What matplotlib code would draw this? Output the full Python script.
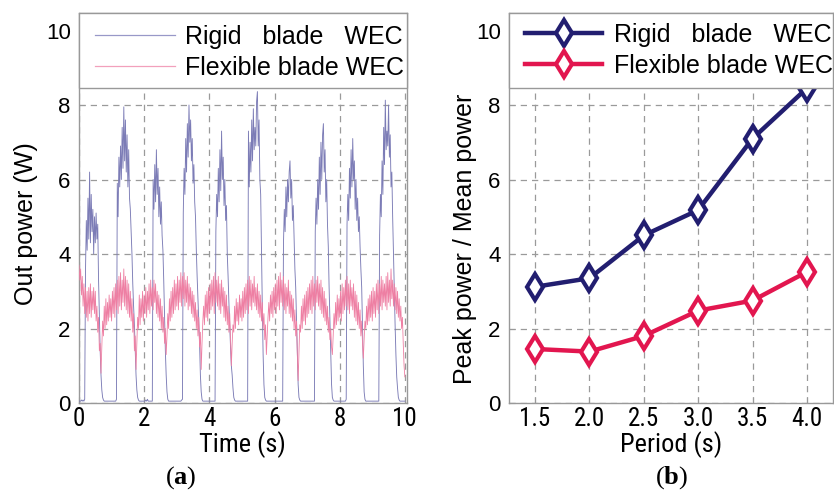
import numpy as np
import matplotlib
matplotlib.use("Agg")
import matplotlib.pyplot as plt
from matplotlib.patches import Rectangle
from matplotlib.lines import Line2D

plt.rcParams['font.family'] = ['Liberation Sans', 'DejaVu Sans']
plt.rcParams['mathtext.fontset'] = 'custom'
plt.rcParams['mathtext.rm'] = 'Liberation Serif'
plt.rcParams['mathtext.bf'] = 'Liberation Serif:bold'

# ---------------- data: panel (a), sampled every 0.025 s from 0 to 10 s -------------
rigid_power = [
    0.05, 0.05, 0.05, 0.08, 0.05, 0.08, 0.05, 0.1, 3.6, 4.9, 4.1, 5.5, 4.4, 6.2, 4.3, 5.6, 4.6, 5.2, 4.0, 5.0,
    4.3, 5.1, 4.4, 4.8, 3.3, 2.3, 1.4, 0.75, 0.35, 0.15, 0.08, 0.05, 0.05, 0.05, 0.05, 0.05, 0.05, 0.05, 0.05, 0.05,
    0.05, 0.05, 0.05, 0.05, 0.05, 0.05, 0.1, 5.9, 5.0, 6.6, 5.8, 6.9, 6.0, 7.4, 6.3, 7.95, 6.5, 7.6, 6.2, 7.2,
    5.8, 6.8, 5.5, 5.2, 4.6, 4.0, 3.2, 2.6, 2.1, 1.4, 0.75, 0.35, 0.15, 0.08, 0.05, 0.05, 0.05, 0.05, 0.05, 0.05,
    0.05, 0.05, 0.08, 0.05, 0.1, 0.05, 0.05, 0.05, 0.05, 0.05, 0.05, 6.0, 5.2, 6.4, 5.4, 6.8, 5.6, 6.3, 5.0, 5.8,
    4.8, 5.4, 4.5, 4.1, 3.3, 2.3, 1.4, 0.75, 0.3, 0.1, 0.05, 0.05, 0.05, 0.05, 0.05, 0.05, 0.05, 0.05, 0.05, 0.05,
    0.05, 0.05, 0.05, 0.05, 0.05, 0.05, 0.08, 0.1, 5.1, 6.3, 5.6, 7.1, 6.2, 7.5, 6.6, 8.0, 7.0, 7.6, 6.5, 7.1,
    5.9, 6.4, 5.4, 5.0, 4.1, 3.4, 2.8, 2.2, 1.6, 0.75, 0.3, 0.1, 0.05, 0.05, 0.05, 0.05, 0.05, 0.05, 0.05, 0.05,
    0.05, 0.05, 0.05, 0.05, 0.05, 0.05, 0.05, 0.05, 4.6, 5.6, 5.0, 6.3, 5.4, 6.8, 5.7, 7.3, 6.0, 6.6, 5.3, 6.0,
    4.9, 5.3, 4.0, 3.4, 2.7, 2.1, 1.5, 1.0, 0.75, 0.4, 0.15, 0.08, 0.05, 0.05, 0.05, 0.05, 0.05, 0.05, 0.05, 0.05,
    0.05, 0.05, 0.05, 0.05, 0.05, 0.05, 0.05, 0.05, 7.3, 5.8, 7.0, 6.2, 7.6, 6.5, 7.9, 6.8, 7.4, 6.9, 8.1, 8.36,
    6.9, 7.6, 6.0, 5.6, 4.0, 2.6, 1.3, 0.5, 0.15, 0.08, 0.05, 0.05, 0.05, 0.05, 0.05, 0.05, 0.05, 0.05, 0.05, 0.05,
    0.05, 0.05, 0.05, 0.05, 0.05, 0.05, 0.05, 0.05, 0.05, 0.05, 0.05, 4.3, 5.2, 4.6, 5.8, 5.0, 6.0, 5.4, 6.2, 6.5,
    5.5, 6.0, 4.9, 5.3, 4.4, 3.6, 3.1, 2.2, 1.3, 0.5, 0.15, 0.08, 0.05, 0.05, 0.05, 0.05, 0.05, 0.05, 0.05, 0.05,
    0.05, 0.05, 0.05, 0.05, 0.05, 0.05, 0.05, 0.05, 0.05, 0.05, 4.6, 5.5, 4.8, 6.0, 5.2, 6.6, 5.6, 7.0, 6.0, 7.2,
    7.5, 6.2, 6.8, 5.4, 6.0, 4.8, 4.2, 3.1, 2.2, 1.3, 0.5, 0.15, 0.08, 0.05, 0.05, 0.05, 0.05, 0.05, 0.05, 0.05,
    0.05, 0.05, 0.05, 0.05, 0.05, 0.05, 0.05, 0.05, 0.1, 4.8, 5.6, 4.9, 6.3, 5.5, 6.8, 5.8, 7.1, 6.0, 6.5, 5.2,
    6.0, 4.9, 5.5, 4.6, 5.0, 4.2, 3.6, 3.1, 2.1, 1.0, 0.3, 0.1, 0.05, 0.05, 0.05, 0.05, 0.05, 0.05, 0.05, 0.05,
    0.05, 0.05, 0.05, 0.05, 0.05, 0.05, 0.05, 0.05, 0.05, 4.5, 5.6, 5.0, 6.5, 5.6, 7.4, 6.4, 8.13, 6.8, 7.3, 6.9,
    8.0, 6.6, 7.2, 5.8, 6.2, 5.0, 4.0, 3.0, 2.1, 1.3, 0.7, 0.4, 0.15, 0.08, 0.05, 0.05, 0.05, 0.05, 0.05, 0.05,
    0.05,
]

flexible_power = [
    3.7, 3.3, 3.6, 2.9, 3.4, 2.6, 3.2, 2.4, 3.1, 2.3, 3.0, 2.2, 3.1, 2.4, 3.2, 2.3, 3.0, 2.5, 3.1, 2.4,
    3.0, 2.2, 2.6, 1.9, 2.3, 1.4, 1.6, 0.8, 1.5, 2.2, 1.8, 2.6, 2.0, 2.8, 2.1, 2.7, 2.2, 2.9, 2.3, 2.8,
    2.2, 3.0, 2.4, 3.1, 2.3, 3.2, 2.5, 3.3, 2.4, 3.4, 2.6, 3.5, 2.5, 3.3, 2.7, 3.6, 2.6, 3.4, 2.5, 3.3,
    2.4, 3.2, 2.3, 3.0, 2.2, 2.8, 1.9, 2.4, 1.4, 1.8, 0.9, 1.6, 2.3, 2.0, 2.9, 2.1, 2.8, 2.3, 3.0, 2.2,
    2.9, 2.4, 3.1, 2.3, 3.0, 2.5, 3.2, 2.4, 3.3, 2.6, 3.1, 2.5, 3.3, 2.7, 3.2, 2.4, 3.0, 2.3, 2.9, 2.2,
    2.8, 2.0, 2.6, 1.9, 2.3, 1.6, 2.0, 1.3, 1.8, 2.4, 2.0, 2.8, 2.2, 3.0, 2.3, 3.1, 2.4, 3.3, 2.5, 3.2,
    2.6, 3.4, 2.5, 3.3, 2.7, 3.5, 2.6, 3.4, 2.8, 3.5, 2.6, 3.3, 2.7, 3.4, 2.5, 3.2, 2.6, 3.1, 2.4, 3.0,
    2.3, 2.9, 2.2, 2.7, 2.0, 2.5, 1.8, 2.3, 1.5, 1.9, 0.9, 1.6, 2.2, 2.6, 2.1, 2.9, 2.3, 3.0, 2.2, 3.1,
    2.4, 3.2, 2.5, 3.3, 2.6, 3.4, 2.4, 3.5, 2.7, 3.3, 2.6, 3.4, 2.5, 3.2, 2.4, 3.3, 2.6, 3.1, 2.3, 3.0,
    2.2, 2.9, 2.1, 2.6, 1.9, 2.4, 1.7, 1.0, 1.6, 2.1, 1.9, 2.6, 2.0, 2.8, 2.2, 2.7, 2.1, 2.9, 2.3, 2.8,
    2.2, 3.0, 2.3, 3.1, 2.4, 3.2, 2.5, 3.3, 2.4, 3.4, 2.6, 3.3, 2.5, 3.2, 2.7, 3.4, 2.6, 3.1, 2.5, 3.2,
    2.4, 3.0, 2.3, 2.9, 2.2, 2.7, 2.0, 2.4, 1.7, 2.1, 1.3, 1.8, 2.3, 2.7, 2.2, 2.9, 2.4, 3.0, 2.3, 3.1,
    2.5, 3.2, 2.4, 3.3, 2.6, 3.4, 2.5, 3.5, 2.7, 3.3, 2.6, 3.4, 2.5, 3.2, 2.4, 3.1, 2.6, 3.3, 2.4, 3.0,
    2.3, 2.9, 2.2, 2.8, 2.0, 2.5, 1.8, 2.2, 1.3, 0.6, 1.4, 2.1, 1.9, 2.6, 2.0, 2.8, 2.2, 2.9, 2.1, 3.0,
    2.3, 3.1, 2.4, 3.2, 2.5, 3.3, 2.4, 3.4, 2.6, 3.2, 2.5, 3.3, 2.7, 3.4, 2.6, 3.2, 2.5, 3.3, 2.4, 3.1,
    2.3, 3.0, 2.2, 2.8, 2.1, 2.6, 1.9, 2.3, 1.7, 2.0, 1.5, 1.3, 1.8, 2.4, 2.0, 2.7, 2.1, 2.9, 2.2, 2.8,
    2.3, 3.0, 2.2, 3.2, 2.4, 3.1, 2.5, 3.3, 2.6, 3.4, 2.5, 3.2, 2.4, 3.3, 2.6, 3.1, 2.5, 3.2, 2.3, 3.0,
    2.2, 2.9, 2.1, 2.7, 2.0, 2.5, 1.8, 2.2, 1.6, 1.2, 1.7, 2.2, 2.0, 2.6, 2.1, 2.8, 2.2, 2.9, 2.3, 3.0,
    2.2, 3.1, 2.4, 3.0, 2.3, 3.2, 2.5, 3.3, 2.4, 3.2, 2.6, 3.4, 2.5, 3.3, 2.7, 3.2, 2.6, 3.4, 2.5, 3.5,
    2.7, 3.3, 2.6, 3.6, 2.8, 3.3, 2.6, 3.2, 2.5, 3.1, 2.4, 3.0, 2.3, 2.8, 2.2, 2.6, 2.0, 2.3, 1.6, 1.0,
    0.7,
]

# ---------------- data: panel (b) ----------------
periods = [1.5, 2.0, 2.5, 3.0, 3.5, 4.0]
period_labels = ['1.5', '2.0', '2.5', '3.0', '3.5', '4.0']
rigid_ratio = [3.12, 3.35, 4.5, 5.18, 7.1, 8.45]
flexible_ratio = [1.45, 1.38, 1.8, 2.48, 2.75, 3.52]

series_names = ['Rigid   blade   WEC', 'Flexible blade WEC']

# ---------------- figure ----------------
W, H = 834, 497
fig = plt.figure(figsize=(W / 100, H / 100), dpi=100)

def frac_rect(x0, x1, ytop, ybot):
    return [x0 / W, (H - ybot) / H, (x1 - x0) / W, (ybot - ytop) / H]

ax1 = fig.add_axes(frac_rect(79, 406.5, 13, 403))
ax2 = fig.add_axes(frac_rect(509, 833, 13, 403))

grid_kw = dict(color='#9a9a9a', linestyle=(0, (5, 4)), linewidth=0.9)
spine_col = '#999999'
narrow = ['Roboto Condensed', 'DejaVu Sans Condensed', 'Liberation Sans Narrow',
          'Liberation Sans', 'DejaVu Sans']

RIGID_A = '#7c7cb6'
FLEX_A = '#ee7fa3'
RIGID_B = '#221e70'
FLEX_B = '#e2164f'

# ---- panel (a) ----
t_r = np.linspace(0, 10, len(rigid_power))
t_f = np.linspace(0, 10, len(flexible_power))
l1, = ax1.plot(t_r, rigid_power, color=RIGID_A, lw=0.65, zorder=3)
l2, = ax1.plot(t_f, flexible_power, color=FLEX_A, lw=0.6, zorder=4)
ax1.set_xlim(0, 10.05)
ax1.set_ylim(0, 10.47)
ax1.set_xticks([0, 2, 4, 6, 8, 10])
ax1.set_yticks([0, 2, 4, 6, 8, 10])
ax1.set_ylabel('Out power (W)', fontsize=18)
ax1.yaxis.set_label_coords(-0.125, 0.46)
ax1.set_xlabel('Time (s)', fontsize=19, family=narrow, labelpad=0)

# ---- panel (b) ----
ax2.plot(periods, rigid_ratio, color=RIGID_B, lw=3.2, marker='d', markersize=13,
         markerfacecolor='white', markeredgecolor=RIGID_B, markeredgewidth=3.0, zorder=4)
ax2.plot(periods, flexible_ratio, color=FLEX_B, lw=3.2, marker='d', markersize=13,
         markerfacecolor='white', markeredgecolor=FLEX_B, markeredgewidth=3.0, zorder=4)
ax2.set_xlim(1.26, 4.24)
ax2.set_ylim(0, 10.47)
ax2.set_xticks(periods)
ax2.set_xticklabels(period_labels)
ax2.set_yticks([0, 2, 4, 6, 8, 10])
ax2.set_ylabel('Peak power / Mean power', fontsize=18)
ax2.yaxis.set_label_coords(-0.1, 0.42)
ax2.set_xlabel('Period (s)', fontsize=19, family=narrow, labelpad=0)

for ax in (ax1, ax2):
    ax.grid(True, **grid_kw)
    for s in ax.spines.values():
        s.set_color(spine_col)
        s.set_linewidth(1.0)
    ax.tick_params(axis='both', direction='in', length=4, width=0.8, color=spine_col)
    ax.tick_params(axis='y', labelsize=16, pad=6)
    ax.tick_params(axis='x', labelsize=18, pad=3)
    for lab in ax.get_xticklabels():
        lab.set_family(narrow)
    # legend region box
    ax.add_patch(Rectangle((0, (403 - 88) / 390), 1, 1 - (403 - 88) / 390,
                           transform=ax.transAxes, facecolor='white',
                           edgecolor=spine_col, lw=1.0, zorder=10, clip_on=False))

h1 = Line2D([], [], color='#9898c8', lw=0.9)
h2 = Line2D([], [], color='#f2a0bc', lw=0.9)
leg1 = ax1.legend([h1, h2], series_names, loc='center left',
                  bbox_to_anchor=(0.049, 0.899), frameon=False, fontsize=18,
                  handlelength=3.2, handletextpad=0.4, labelspacing=0.3,
                  borderpad=0, borderaxespad=0)
leg1.set_zorder(11)

h_r = ax2.lines[0]
h_f = ax2.lines[1]
leg2 = ax2.legend([h_r, h_f], series_names, loc='center left',
                  bbox_to_anchor=(0.049, 0.904), frameon=False, fontsize=18,
                  handlelength=3.1, handletextpad=0.45, labelspacing=0.3,
                  borderpad=0, borderaxespad=0)
leg2.set_zorder(11)

# sub-figure labels
fig.text(181 / W, 1 - 478 / H, r'$(\mathbf{a})$', ha='center', va='center', fontsize=19)
fig.text(672 / W, 1 - 478 / H, r'$(\mathbf{b})$', ha='center', va='center', fontsize=19)

fig.savefig('out.png', dpi=100)
